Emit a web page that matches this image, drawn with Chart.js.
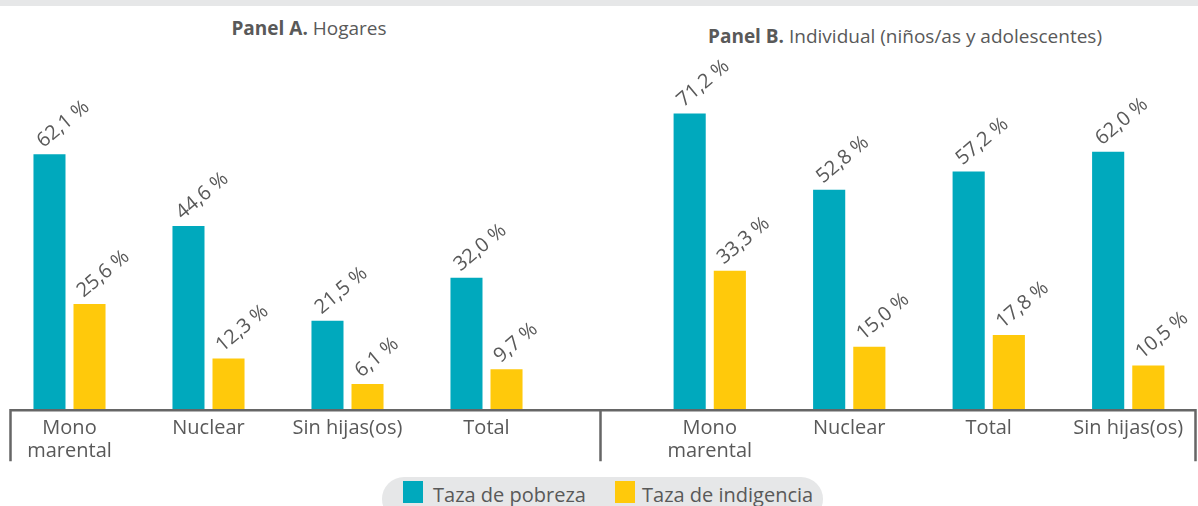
<!DOCTYPE html>
<html>
<head>
<meta charset="utf-8">
<script src="https://cdn.jsdelivr.net/npm/chart.js@4"></script>
<style>
  html, body { margin: 0; padding: 0; background: #fff; }
  body { width: 1198px; height: 506px; position: relative; overflow: hidden; font-family: "Open Sans", sans-serif; color: #595959; }
  .topband { position: absolute; left: 0; top: 0; width: 1198px; height: 6px; background: #e6e7e8; }
  .title { position: absolute; font-size: 19px; white-space: nowrap; transform: translate(-50%, -50%); }
  .title b { font-weight: 700; }
  #chartA, #chartB { position: absolute; top: 0; }
  #legend { position: absolute; left: 382px; top: 477px; width: 441px; height: 44px; background: #e6e7e8; border-radius: 22px; }
  .lg-item { position: absolute; top: 5px; font-size: 20px; line-height: 26px; white-space: nowrap; }
  .lg-box { position: absolute; top: 4px; width: 20px; height: 22px; }
</style>
</head>
<body>
<div class="topband"></div>
<div class="title" style="left:309px; top:28px;"><b>Panel A.</b> Hogares</div>
<div class="title" style="left:905px; top:36px;"><b>Panel B.</b> Individual (niños/as y adolescentes)</div>
<canvas id="chartA" width="600" height="470" style="left:0; width:600px; height:470px;"></canvas>
<canvas id="chartB" width="608" height="470" style="left:590px; width:608px; height:470px;"></canvas>
<div id="legend"></div>

<script>
// Datos del gráfico
const seriesNames = ['Taza de pobreza', 'Taza de indigencia'];
const seriesColors = ['#00a9bd', '#ffc90b'];

const categoriasA = [['Mono', 'marental'], 'Nuclear', 'Sin hijas(os)', 'Total'];
const pobrezaA = [62.1, 44.6, 21.5, 32.0];
const indigenciaA = [25.6, 12.3, 6.1, 9.7];

const categoriasB = [['Mono', 'marental'], 'Nuclear', 'Total', 'Sin hijas(os)'];
const pobrezaB = [71.2, 52.8, 57.2, 62.0];
const indigenciaB = [33.3, 15.0, 17.8, 10.5];

const textColor = '#595959';
const axisColor = '#666666';

// Etiquetas rotadas sobre cada barra
const labelPlugin = {
    id: 'rotatedLabels',
    afterDatasetsDraw(chart) {
        const ctx = chart.ctx;
        ctx.save();
        ctx.font = '20px "Open Sans"';
        ctx.fillStyle = textColor;
        ctx.textAlign = 'left';
        ctx.textBaseline = 'alphabetic';
        chart.data.datasets.forEach((ds, i) => {
            chart.getDatasetMeta(i).data.forEach((bar, j) => {
                const txt = ds.data[j].toFixed(1).replace('.', ',') + ' %';
                ctx.save();
                ctx.translate(bar.x - bar.width / 2 + 10, bar.y - 6);
                ctx.rotate(-40 * Math.PI / 180);
                ctx.fillText(txt, 0, 0);
                ctx.restore();
            });
        });
        ctx.restore();
    }
};

// Línea del eje con marcas verticales en los extremos
const axisPlugin = {
    id: 'axisFrame',
    afterDraw(chart, args, opts) {
        const ctx = chart.ctx;
        const y = chart.chartArea.bottom + 1.2;
        ctx.save();
        ctx.strokeStyle = axisColor;
        ctx.lineWidth = 2.5;
        ctx.beginPath();
        ctx.moveTo(opts.x0, y);
        ctx.lineTo(opts.x1, y);
        ctx.moveTo(opts.x0, y - 1.2);
        ctx.lineTo(opts.x0, y + 51);
        if (opts.rightTick) {
            ctx.moveTo(opts.x1, y - 1.2);
            ctx.lineTo(opts.x1, y + 51);
        }
        ctx.stroke();
        ctx.restore();
    }
};

function makeChart(id, labels, pobreza, indigencia, yMax, padding, frame) {
    return new Chart(document.getElementById(id), {
        type: 'bar',
        data: {
            labels: labels,
            datasets: [
                { label: seriesNames[0], data: pobreza, backgroundColor: seriesColors[0] },
                { label: seriesNames[1], data: indigencia, backgroundColor: seriesColors[1] }
            ]
        },
        options: {
            responsive: false,
            animation: false,
            categoryPercentage: 0.576,
            barPercentage: 0.8,
            layout: { padding: padding },
            scales: {
                x: {
                    grid: { display: false, drawTicks: false },
                    border: { display: false },
                    ticks: {
                        color: textColor,
                        font: { family: 'Open Sans', size: 20, lineHeight: 1.15 },
                        padding: 8,
                        maxRotation: 0,
                        autoSkip: false
                    },
                    afterFit: function(scale) { scale.height = 61; }
                },
                y: { display: false, min: 0, max: yMax }
            },
            plugins: {
                legend: { display: false },
                tooltip: { enabled: false },
                axisFrame: frame
            }
        },
        plugins: [labelPlugin, axisPlugin]
    });
}

makeChart('chartA', categoriasA, pobrezaA, indigenciaA, 92.4,
    { top: 30, left: 0, right: 44, bottom: 0 },
    { x0: 10.5, x1: 600, rightTick: false });

makeChart('chartB', categoriasB, pobrezaB, indigenciaB, 91.3,
    { top: 30, left: 50, right: 0, bottom: 0 },
    { x0: 10.5, x1: 605.5, rightTick: true });

// Leyenda común
const legend = document.getElementById('legend');
const legendPos = [[21, 51], [233, 260]];
seriesNames.forEach((name, i) => {
    const box = document.createElement('div');
    box.className = 'lg-box';
    box.style.left = legendPos[i][0] + 'px';
    box.style.background = seriesColors[i];
    legend.appendChild(box);
    const txt = document.createElement('div');
    txt.className = 'lg-item';
    txt.style.left = legendPos[i][1] + 'px';
    txt.textContent = name;
    legend.appendChild(txt);
});
</script>
</body>
</html>
